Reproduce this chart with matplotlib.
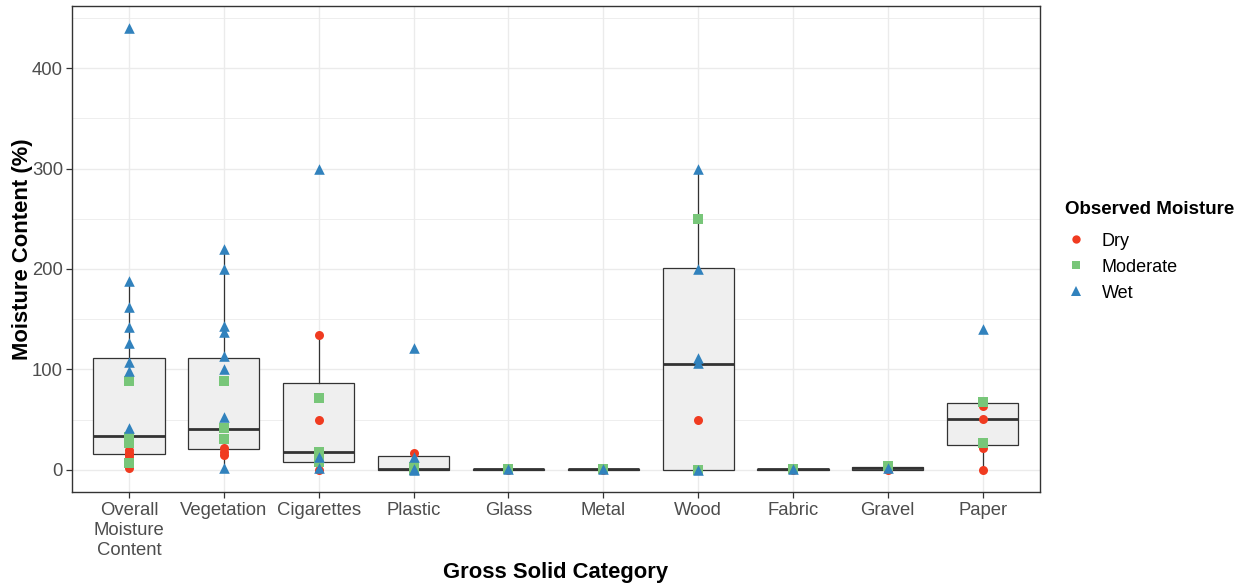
import matplotlib
matplotlib.use("Agg")
import matplotlib.pyplot as plt
from matplotlib.ticker import MultipleLocator
from matplotlib.lines import Line2D

plt.rcParams['font.family'] = ['Liberation Sans', 'DejaVu Sans']

categories = ["Overall\nMoisture\nContent", "Vegetation", "Cigarettes", "Plastic", "Glass",
              "Metal", "Wood", "Fabric", "Gravel", "Paper"]

# moisture content (%) per category, split by observed moisture
dry = [[2, 12, 15, 17, 20], [15, 18, 22], [0, 50, 134], [0, 17], [0],
       [0], [50], [0], [0], [0, 22, 51, 64]]
moderate = [[7, 27, 30, 33, 88], [31, 42, 88], [8, 18, 72], [0, 3], [1],
            [1], [0, 250], [1], [4], [27, 68]]
wet = [[42, 98, 107, 126, 142, 162, 188, 440], [2, 53, 100, 113, 137, 143, 200, 220],
       [2, 13, 300], [0, 1, 13, 121], [1], [1], [0, 106, 111, 200, 300], [1], [2], [140]]

# box summaries (lower whisker, Q1, median, Q3, upper whisker)
box_lo = [2, 2, 0, 0, 0, 0, 0, 0, 0, 0]
box_q1 = [15.6, 21, 7.7, 0, 0, 0, 0, 0, 0, 24.6]
box_med = [34, 41, 17.6, 0.7, 0.5, 0.5, 105, 0.5, 1.5, 51]
box_q3 = [111, 111, 86.5, 13.3, 1, 1, 201, 1, 2.5, 66.5]
box_hi = [188, 220, 134, 17, 1, 1, 300, 1, 4, 68]

c_dry = "#F03B20"
c_mod = "#78C679"
c_wet = "#3182BD"

fig = plt.figure(figsize=(12.42, 5.87), dpi=100)
ax = fig.add_axes([0.058, 0.162, 0.779, 0.828])

pos = list(range(1, len(categories) + 1))
stats = []
for i in range(len(categories)):
    stats.append(dict(whislo=box_lo[i], q1=box_q1[i], med=box_med[i],
                      q3=box_q3[i], whishi=box_hi[i], fliers=[]))

ax.bxp(stats, positions=pos, widths=0.75, patch_artist=True, showcaps=False,
       boxprops=dict(facecolor="#EFEFEF", edgecolor="#333333", linewidth=0.9),
       whiskerprops=dict(color="#333333", linewidth=0.9),
       medianprops=dict(color="#333333", linewidth=2.0, solid_capstyle="butt"),
       zorder=2)

for i, p in enumerate(pos):
    ax.scatter([p] * len(dry[i]), dry[i], marker="o", s=42, color=c_dry,
               linewidths=0, zorder=3)
    ax.scatter([p] * len(moderate[i]), moderate[i], marker="s", s=46, color=c_mod,
               linewidths=0, zorder=4)
    ax.scatter([p] * len(wet[i]), wet[i], marker="^", s=58, color=c_wet,
               linewidths=0, zorder=5)

ax.set_xlim(0.4, 10.6)
ax.set_ylim(-22, 462)
ax.yaxis.set_major_locator(MultipleLocator(100))
ax.yaxis.set_minor_locator(MultipleLocator(50))
ax.set_xticks(pos)
ax.set_xticklabels(categories, linespacing=1.2)

ax.grid(which="major", color="#EBEBEB", linewidth=1.0, zorder=0)
ax.grid(which="minor", axis="y", color="#EBEBEB", linewidth=0.6, zorder=0)
ax.set_axisbelow(True)
for s in ax.spines.values():
    s.set_color("#333333")
    s.set_linewidth(1.0)
ax.tick_params(which="major", length=4, color="#333333", labelcolor="#4D4D4D",
               labelsize=13.3, width=0.9)
ax.tick_params(axis="y", which="major", pad=2.5)
ax.tick_params(which="minor", length=0)

ax.set_xlabel("Gross Solid Category", fontsize=15.8, fontweight="bold", va="center")
ax.set_ylabel("Moisture Content (%)", fontsize=15.8, fontweight="bold", va="center")
ax.xaxis.set_label_coords(0.5, -0.165)
ax.yaxis.set_label_coords(-0.051, 0.5)

handles = [
    Line2D([], [], marker="o", linestyle="", color=c_dry, markersize=6, markeredgewidth=0),
    Line2D([], [], marker="s", linestyle="", color=c_mod, markersize=6, markeredgewidth=0),
    Line2D([], [], marker="^", linestyle="", color=c_wet, markersize=7, markeredgewidth=0),
]
leg = fig.legend(handles, ["Dry", "Moderate", "Wet"], title="Observed Moisture",
                 loc="upper left", bbox_to_anchor=(0.852, 0.67), frameon=False,
                 fontsize=13, title_fontproperties=dict(weight="bold", size=13.5),
                 handletextpad=0.8, labelspacing=0.5, handlelength=1.2,
                 borderaxespad=0)
leg._legend_box.align = "left"
leg._legend_box.sep = 10.5

fig.savefig("out.png", dpi=100)
